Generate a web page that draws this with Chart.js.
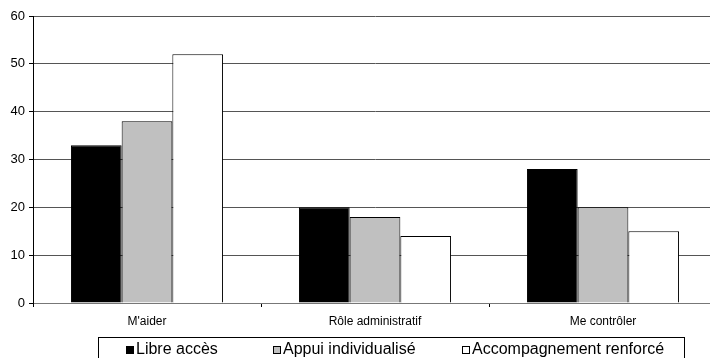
<!DOCTYPE html>
<html>
<head>
<meta charset="utf-8">
<script src="https://cdn.jsdelivr.net/npm/chart.js"></script>
<style>
  html, body { margin: 0; padding: 0; background: #fff; overflow: hidden; width: 710px; height: 358px; }
  #wrap { width: 730px; height: 358px; }
</style>
</head>
<body>
<div id="wrap"><canvas id="chart" width="730" height="358"></canvas></div>
<script>
// Data
const categories = ["M'aider", "Rôle administratif", "Me contrôler"];
const libreAcces = [33, 20, 28];
const appuiIndividualise = [38, 18, 20];
const accompagnementRenforce = [52, 14, 15];
const seriesNames = ['Libre accès', 'Appui individualisé', 'Accompagnement renforcé'];
const yTickLabels = ['0', '10', '20', '30', '40', '50', '60'];

const FONT = '"Liberation Sans", Arial, sans-serif';

// Boxed legend under the chart, like the original spreadsheet export
const boxedLegend = {
    id: 'boxedLegend',
    afterDraw(chart) {
        const ctx = chart.ctx;
        const itemX = [126, 273, 462];
        ctx.save();
        ctx.strokeStyle = '#000';
        ctx.lineWidth = 1;
        ctx.strokeRect(98.5, 337.5, 586, 30);
        ctx.font = '16px ' + FONT;
        ctx.textBaseline = 'alphabetic';
        chart.data.datasets.forEach((ds, i) => {
            const x = itemX[i];
            ctx.fillStyle = ds.backgroundColor;
            ctx.fillRect(x, 346, 8, 8);
            ctx.strokeStyle = '#000';
            ctx.strokeRect(x + 0.5, 346.5, 7, 7);
            ctx.fillStyle = '#000';
            ctx.fillText(ds.label, x + 10, 354);
        });
        ctx.restore();
    }
};

new Chart(document.getElementById('chart'), {
    type: 'bar',
    data: {
        labels: categories,
        datasets: [
            { label: seriesNames[0], data: libreAcces, backgroundColor: '#000000' },
            { label: seriesNames[1], data: appuiIndividualise, backgroundColor: '#c0c0c0' },
            { label: seriesNames[2], data: accompagnementRenforce, backgroundColor: '#ffffff' }
        ]
    },
    options: {
        responsive: false,
        animation: false,
        devicePixelRatio: 1,
        layout: { padding: { top: 16, right: 13, bottom: 25, left: 0 } },
        datasets: {
            bar: {
                borderColor: '#000',
                borderWidth: 1,
                barPercentage: 1.0,
                categoryPercentage: 0.667
            }
        },
        scales: {
            x: {
                offset: true,
                grid: {
                    offset: true,
                    drawOnChartArea: false,
                    drawTicks: true,
                    tickLength: 4,
                    color: '#000'
                },
                border: { display: true, color: '#777', width: 1 },
                ticks: {
                    color: '#000',
                    padding: 7,
                    maxRotation: 0,
                    font: { family: FONT, size: 12 }
                },
                afterFit(scale) { scale.height = 30; }
            },
            y: {
                min: 0,
                max: 60,
                grid: {
                    color: '#555',
                    drawTicks: true,
                    tickLength: 4,
                    tickColor: '#000'
                },
                border: { display: true, color: '#000', width: 1 },
                ticks: {
                    stepSize: 10,
                    color: '#000',
                    padding: 4,
                    font: { family: FONT, size: 13 },
                    callback: (v, i) => yTickLabels[i]
                },
                afterFit(scale) { scale.width = 33; }
            }
        },
        plugins: {
            legend: { display: false },
            tooltip: { enabled: false }
        }
    },
    plugins: [boxedLegend]
});
</script>
</body>
</html>
